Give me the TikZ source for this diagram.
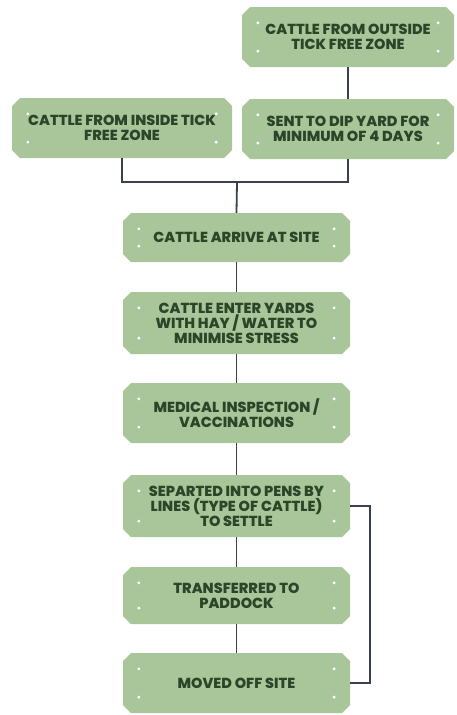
\documentclass[tikz,border=0pt]{standalone}
\usepackage{fontspec}
\setmainfont{Poppins}[BoldFont={Poppins ExtraBold}]
\usetikzlibrary{shapes.misc}
\definecolor{boxgreen}{HTML}{A8C69A}
\definecolor{txtgreen}{HTML}{2C4528}
\definecolor{linegray}{HTML}{3A414C}
\tikzset{
  plaque/.style={chamfered rectangle, chamfered rectangle xsep=4pt, chamfered rectangle ysep=4pt,
    fill=boxgreen, draw=none, text=txtgreen, font=\bfseries\fontsize{14.5}{15}\selectfont,
    align=center, inner sep=0pt},
  conn/.style={draw=linegray, line width=1.8pt},
  pdot/.style={fill=white, draw=none}
}
\newcommand{\plaqdots}[1]{%
  \fill[pdot] ([xshift=12pt,yshift=-12pt]#1.north west) circle (1.6pt);
  \fill[pdot] ([xshift=-12pt,yshift=-12pt]#1.north east) circle (1.6pt);
  \fill[pdot] ([xshift=12pt,yshift=12pt]#1.south west) circle (1.6pt);
  \fill[pdot] ([xshift=-12pt,yshift=12pt]#1.south east) circle (1.6pt);
}
\begin{document}
\begin{tikzpicture}[x=1pt,y=-1pt]
\useasboundingbox[fill=white] (0,0) rectangle (456,715);
\node[plaque, minimum width=212pt, minimum height=60pt] (A) at (348,37) {CATTLE FROM OUTSIDE\\TICK FREE ZONE};
\node[plaque, minimum width=212pt, minimum height=60pt] (B) at (348,129) {SENT TO DIP YARD FOR\\MINIMUM OF 4 DAYS};
\node[plaque, minimum width=220pt, minimum height=60pt] (C) at (122,128) {CATTLE FROM INSIDE TICK\\FREE ZONE};
\node[plaque, minimum width=227pt, minimum height=49pt] (D) at (236.5,237.5) {CATTLE ARRIVE AT SITE};
\node[plaque, minimum width=227pt, minimum height=62pt] (E) at (236.5,323) {CATTLE ENTER YARDS\\WITH HAY / WATER TO\\MINIMISE STRESS};
\node[plaque, minimum width=227pt, minimum height=60pt] (F) at (236.5,413) {MEDICAL INSPECTION /\\VACCINATIONS};
\node[plaque, minimum width=227pt, minimum height=62pt] (G) at (236.5,506) {SEPARTED INTO PENS BY\\LINES (TYPE OF CATTLE)\\TO SETTLE};
\node[plaque, minimum width=227pt, minimum height=57pt] (H) at (236.5,595.5) {TRANSFERRED TO\\PADDOCK};
\node[plaque, minimum width=227pt, minimum height=60pt] (I) at (236.5,683) {MOVED OFF SITE};
\foreach \n in {A,B,C,D,E,F,G,H,I} {\plaqdots{\n}}
\coordinate (J) at (237,182);
\draw[conn] (A.south) -- (B.north);
\draw[conn] (B.south) |- (J);
\draw[conn] (C.south) |- (J);
\draw[conn] (J) -- (D.north);
\draw[conn] (D.south) -- (E.north);
\draw[conn] (E.south) -- (F.north);
\draw[conn] (F.south) -- (G.north);
\draw[conn] (G.south) -- (H.north);
\draw[conn] (H.south) -- (I.north);
\coordinate (R) at (370,0);
\draw[conn] (G.east) -- (G.east -| R) -- (I.east -| R) -- (I.east);
\end{tikzpicture}
\end{document}
